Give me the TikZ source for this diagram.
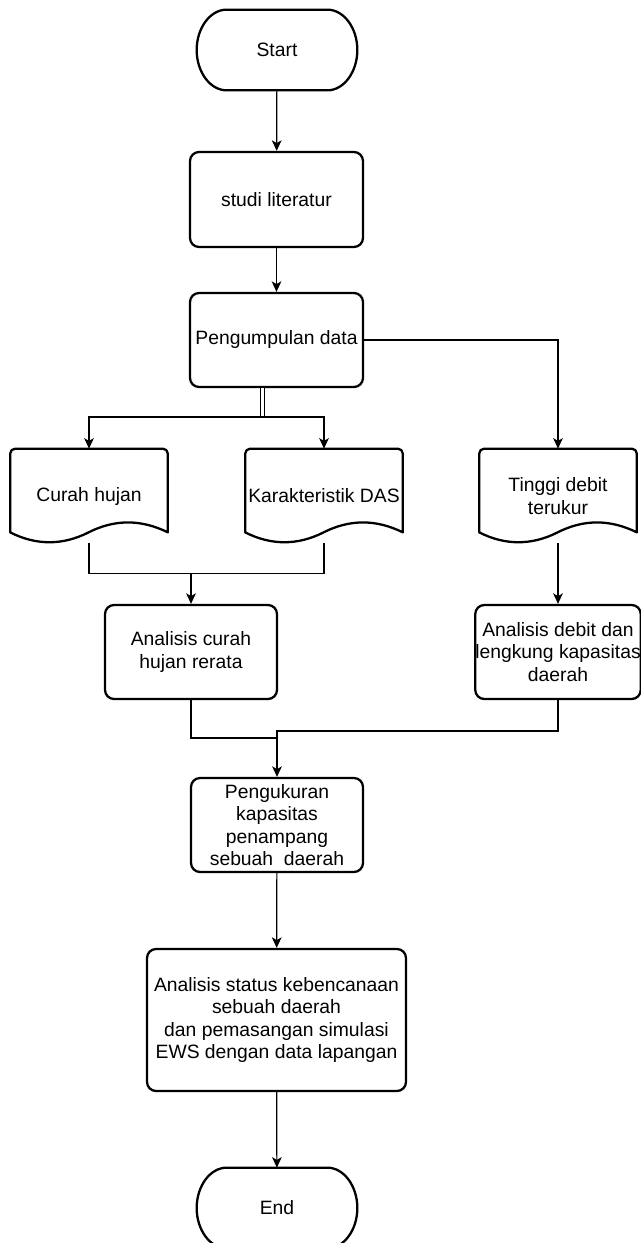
\documentclass[tikz,border=0pt]{standalone}
\usepackage{fontspec}
\setmainfont{Liberation Sans}
\usetikzlibrary{arrows.meta,calc}
\newcommand{\fcfont}{\fontsize{11pt}{12.7pt}\selectfont}
\tikzset{
  fcbox/.style={draw=black, line width=1.3pt, rounded corners=0.18cm, align=center, font=\fcfont, inner sep=0pt},
  fctext/.style={align=center, font=\fcfont, inner sep=0pt},
  fcline/.style={line width=0.7pt, draw=black},
  fcarrow/.style={fcline, -{Stealth[length=6pt,width=5.5pt,inset=1.6pt]}},
  fcedge/.style={line width=1.3pt, draw=black, line join=round},
  fcdouble/.style={line width=0.6pt, draw=black, double=white, double distance=2pt},
}
% terminator outline round a named node
\newcommand{\termoutline}[1]{%
  \draw[fcedge] ([xshift=0.6cm]#1.north west) -- ([xshift=-0.6cm]#1.north east)
    .. controls ([xshift=-0.27cm]#1.north east) and ([yshift=0.44cm]#1.east) .. (#1.east)
    .. controls ([yshift=-0.44cm]#1.east) and ([xshift=-0.27cm]#1.south east) .. ([xshift=-0.6cm]#1.south east)
    -- ([xshift=0.6cm]#1.south west)
    .. controls ([xshift=0.27cm]#1.south west) and ([yshift=-0.44cm]#1.west) .. (#1.west)
    .. controls ([yshift=0.44cm]#1.west) and ([xshift=0.27cm]#1.north west) .. cycle;}
% document outline (wavy bottom) round a named node
\newcommand{\docoutline}[1]{%
  \draw[fcedge] ([yshift=0.22cm]#1.south west) [rounded corners=0.1cm] -- (#1.north west) -- (#1.north east) [sharp corners]
    -- ([yshift=0.22cm]#1.south east)
    .. controls ([shift={(2.62cm,0.484cm)}]#1.south west) and ([shift={(2.09cm,0.484cm)}]#1.south west) .. ([shift={(1.57cm,0.22cm)}]#1.south west)
    .. controls ([shift={(1.05cm,-0.044cm)}]#1.south west) and ([shift={(0.52cm,-0.044cm)}]#1.south west) .. cycle;}

\begin{document}
\begin{tikzpicture}[x=0.02cm, y=-0.02cm]
\useasboundingbox (0,0) rectangle (641,1243);
\clip (0,0) rectangle (641,1243);

\node[fctext, minimum width=3.2cm, minimum height=1.6cm] (start) at (277,50) {Start};
\node[fcbox, minimum width=3.46cm, minimum height=1.9cm] (studi) at (276.5,199.5) {studi literatur};
\node[fcbox, minimum width=3.46cm, minimum height=1.88cm] (kumpul) at (276.5,340) {Pengumpulan data};
\node[fctext, minimum width=3.14cm, minimum height=1.88cm] (curah) at (89,496) {Curah hujan};
\node[fctext, minimum width=3.14cm, minimum height=1.88cm] (karak) at (324,496) {Karakteristik DAS};
\node[fctext, minimum width=3.14cm, minimum height=1.88cm] (tinggi) at (558,496) {Tinggi debit\\terukur};
\node[fcbox, minimum width=3.44cm, minimum height=1.88cm] (anacurah) at (191,652) {Analisis curah\\hujan rerata};
\node[fcbox, minimum width=3.28cm, minimum height=1.88cm] (anadebit) at (558,652) {Analisis debit dan\\lengkung kapasitas\\daerah};
\node[fcbox, minimum width=3.44cm, minimum height=1.88cm] (ukur) at (277,825) {Pengukuran\\kapasitas\\penampang\\sebuah~ daerah};
\node[fcbox, minimum width=5.18cm, minimum height=2.84cm] (status) at (276.5,1020) {Analisis status kebencanaan\\sebuah daerah\\dan pemasangan simulasi\\EWS dengan data lapangan};
\node[fctext, minimum width=3.2cm, minimum height=1.6cm] (end) at (277,1208) {End};

\termoutline{start}
\termoutline{end}
\docoutline{curah}
\docoutline{karak}
\docoutline{tinggi}

\coordinate (split) at (262.5,417);
\coordinate (joinA) at (191,573.5);
\coordinate (joinB) at (277,731);
\coordinate (joinC) at (277,738);

\draw[fcarrow] (start) -- (studi);
\draw[fcarrow] (studi) -- (kumpul);
\draw[fcarrow] (kumpul.east) -| (tinggi.north);
\draw[fcdouble] (split |- kumpul.south) -- (split);
\draw[fcarrow] (split) -| (curah.north);
\draw[fcarrow] (split) -| (karak.north);
\draw[fcline] (curah.south) |- (karak.south |- joinA) -- (karak.south);
\draw[fcarrow] (joinA) -- (anacurah.north);
\draw[fcarrow] (tinggi.south) -- (anadebit.north -| tinggi.south);
\draw[fcline] (anacurah.south) |- (joinC);
\draw[fcarrow] (anadebit.south) |- (joinB) -- (ukur.north);
\draw[fcarrow] (ukur) -- (status);
\draw[fcarrow] (status) -- (end);
\end{tikzpicture}
\end{document}
